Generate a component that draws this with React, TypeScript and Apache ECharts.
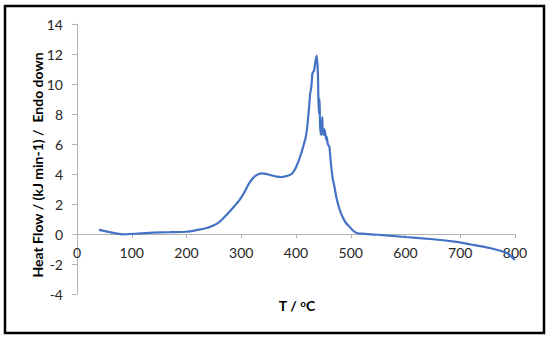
import React, { useEffect, useRef } from "react";
import * as echarts from "echarts";

const temperature: number[] = [
  40, 60, 83, 110, 140, 170, 200, 220, 235, 248, 260, 273, 285, 297, 306, 313, 319, 325, 331, 338, 345, 352, 365,
  374, 385, 392, 398, 403, 408, 413, 418, 421, 424, 426, 428, 430, 433, 436, 438, 440, 441, 442, 443,
  444, 446, 447, 448, 449, 451, 452, 454, 455, 456, 458, 461, 463, 465, 467, 470, 474, 480, 486, 492,
  498, 505, 511, 520, 550, 600, 650, 693, 720, 754, 785, 800,
];
const heatFlow: number[] = [
  0.27, 0.12, -0.02, 0.03, 0.09, 0.12, 0.15, 0.27, 0.38, 0.55, 0.8, 1.27, 1.75, 2.27, 2.8, 3.3, 3.62, 3.85, 3.98, 4.04, 4.01, 3.94, 3.82,
  3.8, 3.88, 4.0, 4.3, 4.7, 5.2, 5.8, 6.5, 7.3, 8.5, 9.4, 9.8, 10.7, 10.9, 11.6, 11.9, 10.7, 8.9, 8.0, 9.0,
  7.2, 6.6, 7.0, 7.8, 6.7, 6.6, 7.0, 6.6, 6.3, 6.5, 6.0, 5.8, 5.0, 4.3, 3.7, 3.2, 2.4, 1.6, 1.07, 0.7,
  0.47, 0.2, 0.07, 0.02, -0.05, -0.2, -0.35, -0.53, -0.7, -0.93, -1.27, -1.73,
];

const xTitle = "T / ";
const yTitle = "Heat Flow / (kJ min-1) /  Endo down";

export default function App() {
  const ref = useRef<HTMLDivElement>(null);
  useEffect(() => {
    if (!ref.current) return;
    const chart = echarts.init(ref.current, null, { renderer: "svg" });
    const font = "Lato, 'Open Sans', sans-serif";
    chart.setOption({
      animation: false,
      backgroundColor: "#ffffff",
      grid: { left: 77, right: 35, top: 24, bottom: 47, containLabel: false },
      xAxis: {
        type: "value",
        min: 0,
        max: 800,
        interval: 100,
        position: "bottom",
        offset: -60,
        axisLine: { onZero: false, lineStyle: { color: "#b3b3b3", width: 1 } },
        axisTick: { show: true, length: 4, lineStyle: { color: "#b3b3b3" } },
        axisLabel: { color: "#262626", fontSize: 14, fontFamily: font, margin: 11 },
        splitLine: { show: false },
      },
      yAxis: {
        type: "value",
        min: -4,
        max: 14,
        interval: 2,
        axisLine: { show: true, onZero: false, lineStyle: { color: "#b3b3b3", width: 1 } },
        axisTick: { show: true, length: 5, lineStyle: { color: "#b3b3b3" } },
        axisLabel: { color: "#262626", fontSize: 14, fontFamily: font, margin: 14 },
        splitLine: { show: false },
      },
      graphic: [
        {
          type: "rect",
          shape: { x: 5, y: 6, width: 539, height: 327 },
          style: { fill: "none", stroke: "#000000", lineWidth: 2.5 },
          silent: true,
        },
        {
          type: "text",
          x: 37,
          y: 165,
          rotation: Math.PI / 2,
          style: {
            text: yTitle,
            fontSize: 14,
            fontWeight: "bold",
            fontFamily: font,
            fill: "#000000",
            align: "center",
            verticalAlign: "middle",
          },
        },
        {
          type: "text",
          x: 297,
          y: 305,
          style: {
            text: xTitle + "{sup|o}C",
            fontSize: 14,
            fontWeight: "bold",
            fontFamily: font,
            fill: "#000000",
            align: "center",
            verticalAlign: "middle",
            rich: {
              sup: { fontSize: 10, fontWeight: "bold", fontFamily: font, fill: "#000000", verticalAlign: "top", padding: [0, 0, 5, 0] },
            },
          },
        },
      ],
      series: [
        {
          type: "line",
          data: temperature.map((t, i) => [t, heatFlow[i]]),
          showSymbol: false,
          smooth: 0.2,
          lineStyle: { color: "#4472C4", width: 2.2 },
        },
      ],
    });
    return () => chart.dispose();
  }, []);
  return (
    <div
      ref={ref}
      style={{ position: "fixed", left: 0, top: 0, width: 550, height: 341 }}
    />
  );
}
